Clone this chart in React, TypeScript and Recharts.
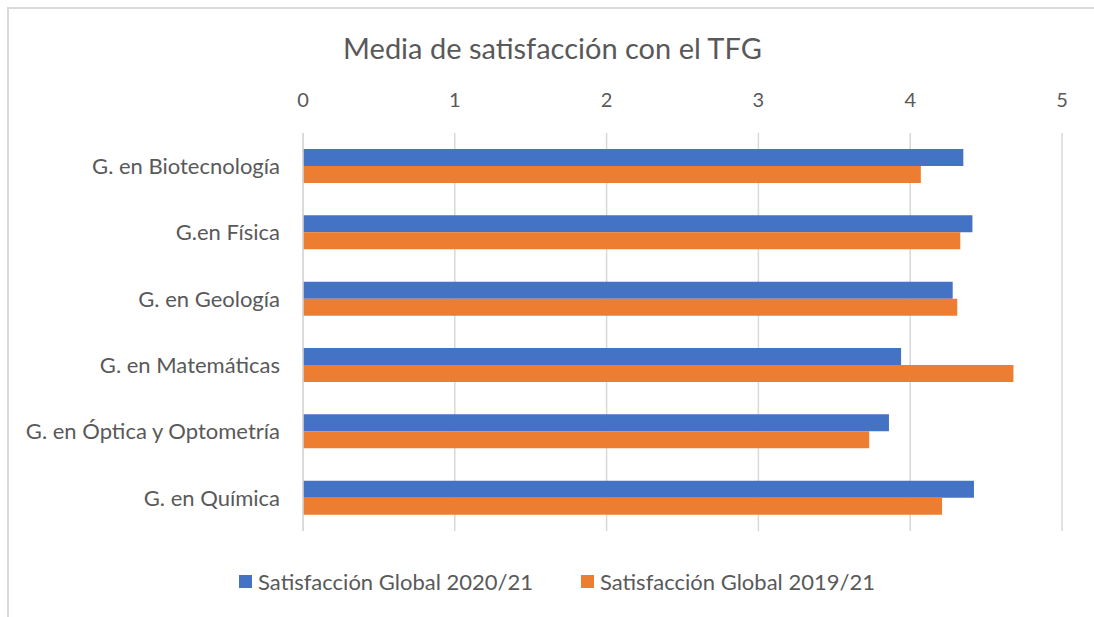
import { BarChart, Bar, XAxis, YAxis, CartesianGrid, Legend } from "recharts"

const categories = [
  "G. en Biotecnología",
  "G.en Física",
  "G. en Geología",
  "G. en Matemáticas",
  "G. en Óptica y Optometría",
  "G. en Química",
]
const sat2020 = [4.35, 4.41, 4.28, 3.94, 3.86, 4.42]
const sat2019 = [4.07, 4.33, 4.31, 4.68, 3.73, 4.21]
const seriesNames = ["Satisfacción Global 2020/21", "Satisfacción Global 2019/21"]
const xTicks = [0, 1, 2, 3, 4, 5]

const BLUE = "#4472C4"
const ORANGE = "#ED7D31"
const TEXT = "#595959"
const GRID = "#D9D9D9"
const FONT = "Lato, 'Open Sans', sans-serif"

const data = categories.map((name, i) => ({
  name,
  s2020: sat2020[i],
  s2019: sat2019[i],
}))

function LegendContent(props: any) {
  // keep series order (recharts 3 sorts legend items by name)
  const items = [...(props.payload ?? [])].sort(
    (a: any, b: any) => seriesNames.indexOf(a.value) - seriesNames.indexOf(b.value)
  )
  return (
    <div style={{ display: "flex", justifyContent: "center", gap: 48, fontFamily: FONT, fontSize: 22, color: TEXT }}>
      {items.map((it: any) => (
        <div key={it.value} style={{ display: "flex", alignItems: "center", gap: 6 }}>
          <span style={{ width: 13, height: 13, background: it.color, display: "inline-block" }} />
          <span>{it.value}</span>
        </div>
      ))}
    </div>
  )
}

export default function App() {
  return (
    <div style={{ position: "fixed", left: 0, top: 0, width: 1094, height: 617, overflow: "hidden", background: "#fff" }}>
      <div
        style={{
          position: "absolute",
          top: 30,
          left: 0,
          width: 1105,
          textAlign: "center",
          fontFamily: FONT,
          fontSize: 29,
          color: TEXT,
        }}
      >
        Media de satisfacción con el TFG
      </div>
      <div style={{ position: "absolute", left: 0, top: 0 }}>
        <BarChart
          width={1094}
          height={617}
          data={data}
          layout="vertical"
          margin={{ top: 103, right: 32, bottom: 86, left: 0 }}
          barSize={17}
          barGap={0}
        >
          <CartesianGrid horizontal={false} stroke={GRID} strokeWidth={1.5} />
          <XAxis
            type="number"
            orientation="top"
            domain={[0, 5]}
            ticks={xTicks}
            height={30}
            axisLine={false}
            tickLine={false}
            tickMargin={20}
            tick={{ fill: TEXT, fontSize: 20, fontFamily: FONT }}
          />
          <YAxis
            type="category"
            dataKey="name"
            width={303}
            axisLine={{ stroke: GRID, strokeWidth: 1.5 }}
            tickLine={false}
            tickMargin={17}
            tick={{ fill: TEXT, fontSize: 22, fontFamily: FONT }}
          />
          <Legend
            layout="horizontal"
            verticalAlign="middle"
            align="center"
            content={LegendContent}
            wrapperStyle={{ top: 568, left: 0, width: 1114 }}
          />
          <Bar dataKey="s2020" name={seriesNames[0]} fill={BLUE} isAnimationActive={false} />
          <Bar dataKey="s2019" name={seriesNames[1]} fill={ORANGE} isAnimationActive={false} />
        </BarChart>
      </div>
      <div
        style={{
          position: "absolute",
          left: 7,
          top: 7,
          width: 1120,
          height: 640,
          borderLeft: `2px solid ${GRID}`,
          borderTop: `2px solid ${GRID}`,
          zIndex: 5,
          pointerEvents: "none",
        }}
      />
    </div>
  )
}
